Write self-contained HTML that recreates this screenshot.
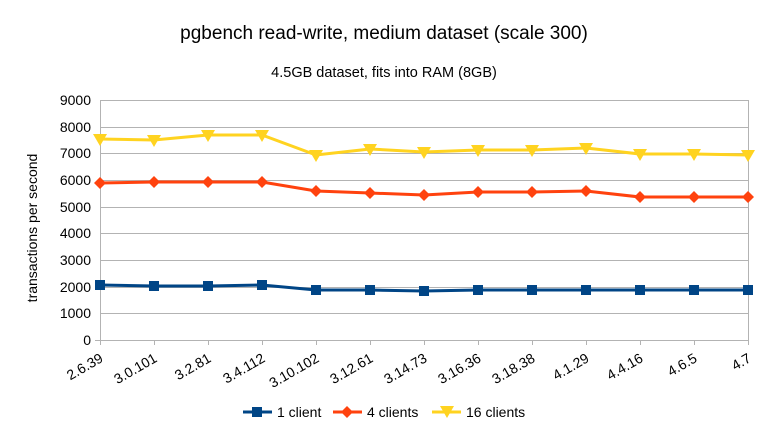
<!DOCTYPE html>
<html><head><style>body{margin:0;background:#fff}svg{font-family:"Liberation Sans",sans-serif}</style></head><body>
<svg width="768" height="432" viewBox="0 0 768 432">
<text x="384" y="39" text-anchor="middle" font-size="19">pgbench read-write, medium dataset (scale 300)</text>
<text x="384" y="77" text-anchor="middle" font-size="14.5">4.5GB dataset, fits into RAM (8GB)</text>
<g stroke="#b3b3b3" stroke-width="1">
<line x1="100" x2="748" y1="100.5" y2="100.5"/><line x1="100" x2="748" y1="127.5" y2="127.5"/><line x1="100" x2="748" y1="153.5" y2="153.5"/><line x1="100" x2="748" y1="180.5" y2="180.5"/><line x1="100" x2="748" y1="207.5" y2="207.5"/><line x1="100" x2="748" y1="233.5" y2="233.5"/><line x1="100" x2="748" y1="260.5" y2="260.5"/><line x1="100" x2="748" y1="287.5" y2="287.5"/><line x1="100" x2="748" y1="313.5" y2="313.5"/><line x1="95" x2="748" y1="340.5" y2="340.5"/>
<line x1="100.5" x2="100.5" y1="100" y2="345"/><line x1="748.5" x2="748.5" y1="100" y2="345"/>
<line x1="154.5" x2="154.5" y1="340" y2="345"/><line x1="208.5" x2="208.5" y1="340" y2="345"/><line x1="262.5" x2="262.5" y1="340" y2="345"/><line x1="316.5" x2="316.5" y1="340" y2="345"/><line x1="370.5" x2="370.5" y1="340" y2="345"/><line x1="424.5" x2="424.5" y1="340" y2="345"/><line x1="478.5" x2="478.5" y1="340" y2="345"/><line x1="532.5" x2="532.5" y1="340" y2="345"/><line x1="586.5" x2="586.5" y1="340" y2="345"/><line x1="640.5" x2="640.5" y1="340" y2="345"/><line x1="694.5" x2="694.5" y1="340" y2="345"/>
</g>
<g font-size="14" text-anchor="end">
<text x="91" y="105">9000</text><text x="91" y="132">8000</text><text x="91" y="158">7000</text><text x="91" y="185">6000</text><text x="91" y="212">5000</text><text x="91" y="238">4000</text><text x="91" y="265">3000</text><text x="91" y="292">2000</text><text x="91" y="318">1000</text><text x="91" y="345">0</text>
</g>
<text transform="translate(37,228) rotate(-90)" text-anchor="middle" font-size="14">transactions per second</text>
<g font-size="14" text-anchor="end">
<text transform="translate(104,361) rotate(-30)">2.6.39</text>
<text transform="translate(158,361) rotate(-30)">3.0.101</text>
<text transform="translate(212,361) rotate(-30)">3.2.81</text>
<text transform="translate(266,361) rotate(-30)">3.4.112</text>
<text transform="translate(320,361) rotate(-30)">3.10.102</text>
<text transform="translate(374,361) rotate(-30)">3.12.61</text>
<text transform="translate(428,361) rotate(-30)">3.14.73</text>
<text transform="translate(482,361) rotate(-30)">3.16.36</text>
<text transform="translate(536,361) rotate(-30)">3.18.38</text>
<text transform="translate(590,361) rotate(-30)">4.1.29</text>
<text transform="translate(644,361) rotate(-30)">4.4.16</text>
<text transform="translate(698,361) rotate(-30)">4.6.5</text>
<text transform="translate(752,361) rotate(-30)">4.7</text>
</g>
<polyline fill="none" stroke="#ffd320" stroke-width="3" points="100,139 154,140 208,135 262,135 316,155 370,149 424,152 478,150 532,150 586,148 640,154 694,154 748,155"/>
<g fill="#ffd320"><path d="M93,134h14l-7,12z"/><path d="M147,135h14l-7,12z"/><path d="M201,130h14l-7,12z"/><path d="M255,130h14l-7,12z"/><path d="M309,150h14l-7,12z"/><path d="M363,144h14l-7,12z"/><path d="M417,147h14l-7,12z"/><path d="M471,145h14l-7,12z"/><path d="M525,145h14l-7,12z"/><path d="M579,143h14l-7,12z"/><path d="M633,149h14l-7,12z"/><path d="M687,149h14l-7,12z"/><path d="M741,150h14l-7,12z"/></g>
<polyline fill="none" stroke="#ff420e" stroke-width="3" points="100,183 154,182 208,182 262,182 316,191 370,193 424,195 478,192 532,192 586,191 640,197 694,197 748,197"/>
<g fill="#ff420e"><path d="M100,177l6,6l-6,6l-6,-6z"/><path d="M154,176l6,6l-6,6l-6,-6z"/><path d="M208,176l6,6l-6,6l-6,-6z"/><path d="M262,176l6,6l-6,6l-6,-6z"/><path d="M316,185l6,6l-6,6l-6,-6z"/><path d="M370,187l6,6l-6,6l-6,-6z"/><path d="M424,189l6,6l-6,6l-6,-6z"/><path d="M478,186l6,6l-6,6l-6,-6z"/><path d="M532,186l6,6l-6,6l-6,-6z"/><path d="M586,185l6,6l-6,6l-6,-6z"/><path d="M640,191l6,6l-6,6l-6,-6z"/><path d="M694,191l6,6l-6,6l-6,-6z"/><path d="M748,191l6,6l-6,6l-6,-6z"/></g>
<polyline fill="none" stroke="#004586" stroke-width="3" points="100,285 154,286 208,286 262,285 316,290 370,290 424,291 478,290 532,290 586,290 640,290 694,290 748,290"/>
<g fill="#004586"><rect x="95" y="280" width="10" height="10"/><rect x="149" y="281" width="10" height="10"/><rect x="203" y="281" width="10" height="10"/><rect x="257" y="280" width="10" height="10"/><rect x="311" y="285" width="10" height="10"/><rect x="365" y="285" width="10" height="10"/><rect x="419" y="286" width="10" height="10"/><rect x="473" y="285" width="10" height="10"/><rect x="527" y="285" width="10" height="10"/><rect x="581" y="285" width="10" height="10"/><rect x="635" y="285" width="10" height="10"/><rect x="689" y="285" width="10" height="10"/><rect x="743" y="285" width="10" height="10"/></g>
<g font-size="14">
<line x1="243" x2="272" y1="412" y2="412" stroke="#004586" stroke-width="3"/><rect x="252" y="407" width="10" height="10" fill="#004586"/><text x="277" y="417">1 client</text>
<line x1="333" x2="362" y1="412" y2="412" stroke="#ff420e" stroke-width="3"/><path d="M347,406l6,6l-6,6l-6,-6z" fill="#ff420e"/><text x="367" y="417">4 clients</text>
<line x1="432" x2="461" y1="412" y2="412" stroke="#ffd320" stroke-width="3"/><path d="M440,406h14l-7,12z" fill="#ffd320"/><text x="466" y="417">16 clients</text>
</g>
</svg>
</body></html>
